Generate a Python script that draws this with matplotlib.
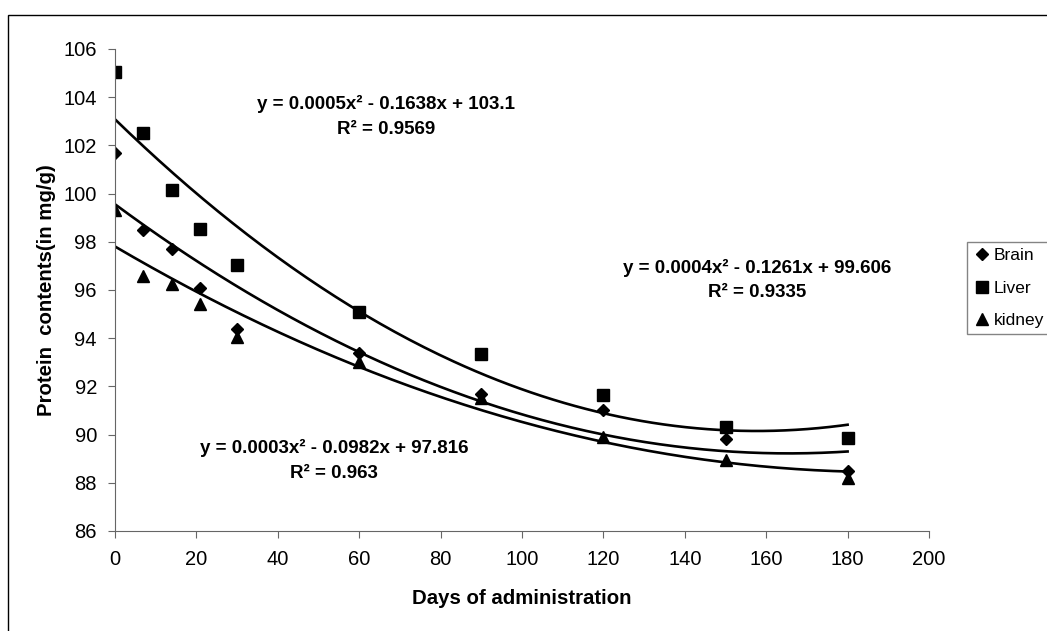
import matplotlib
matplotlib.use("Agg")
import matplotlib.pyplot as plt
import numpy as np
from matplotlib.patches import Rectangle

plt.rcParams["font.family"] = ["Liberation Sans", "DejaVu Sans"]

days = [0, 7, 14, 21, 30, 60, 90, 120, 150, 180]
brain = [101.7, 98.5, 97.7, 96.1, 94.4, 93.4, 91.7, 91.0, 89.8, 88.5]
liver = [105.05, 102.5, 100.15, 98.55, 97.05, 95.1, 93.35, 91.65, 90.3, 89.85]
kidney = [99.3, 96.6, 96.25, 95.4, 94.05, 93.0, 91.5, 89.9, 88.95, 88.2]

eq_liver = "y = 0.0005x² - 0.1638x + 103.1\nR² = 0.9569"
eq_brain = "y = 0.0004x² - 0.1261x + 99.606\nR² = 0.9335"
eq_kidney = "y = 0.0003x² - 0.0982x + 97.816\nR² = 0.963"

W, H = 1047, 631
fig = plt.figure(figsize=(W / 100, H / 100), dpi=100)
ax = fig.add_axes([115 / W, 1 - 531 / H, (929 - 115) / W, (531 - 49) / H])

# outer chart border (runs off the right and bottom edges)
fig.patches.append(Rectangle((8 / W, -0.1), 1.2, 1 - 15 / H + 0.1, transform=fig.transFigure,
                             fill=False, edgecolor="black", lw=1.0))

series = [
    ("Brain", brain, "D", 6.5),
    ("Liver", liver, "s", 8),
    ("kidney", kidney, "^", 8.5),
]
x = np.array(days, dtype=float)
xs = np.linspace(0, 180, 200)
for name, vals, mk, ms in series:
    ax.plot(days, vals, linestyle="none", marker=mk, markersize=ms, color="black", label=name)
    coef = np.polyfit(x, np.array(vals), 2)
    ax.plot(xs, np.polyval(coef, xs), color="black", lw=1.9)

ax.set_xlim(0, 200)
ax.set_ylim(86, 106)
ax.set_xticks(np.arange(0, 201, 20))
ax.set_yticks(np.arange(86, 107, 2))
ax.tick_params(labelsize=14.5, length=5, color="#666666")
ax.tick_params(axis="x", pad=9)
ax.tick_params(axis="y", pad=8)
for side in ("top", "right"):
    ax.spines[side].set_visible(False)
for side in ("left", "bottom"):
    ax.spines[side].set_color("#666666")

ax.set_xlabel("Days of administration", fontsize=14.7, fontweight="bold", labelpad=14)
ax.set_ylabel("Protein  contents(in mg/g)", fontsize=14.7, fontweight="bold", labelpad=5)

eq_kw = dict(fontsize=13.5, fontweight="bold", ha="center", va="center",
             multialignment="center", linespacing=1.6)
ax.text(66.6, 103.2, eq_liver, **eq_kw)
ax.text(157.7, 96.42, eq_brain, **eq_kw)
ax.text(53.9, 88.93, eq_kidney, **eq_kw)

leg = fig.legend(loc="upper left", bbox_to_anchor=(967 / W, 1 - 242 / H), fontsize=12.5,
                 frameon=True, fancybox=False, handletextpad=0.2, handlelength=1.0,
                 borderpad=0.35, labelspacing=1.0, borderaxespad=0)
leg.get_frame().set_edgecolor("#666666")
leg.get_frame().set_linewidth(1.0)

fig.savefig("out.png", dpi=100)
